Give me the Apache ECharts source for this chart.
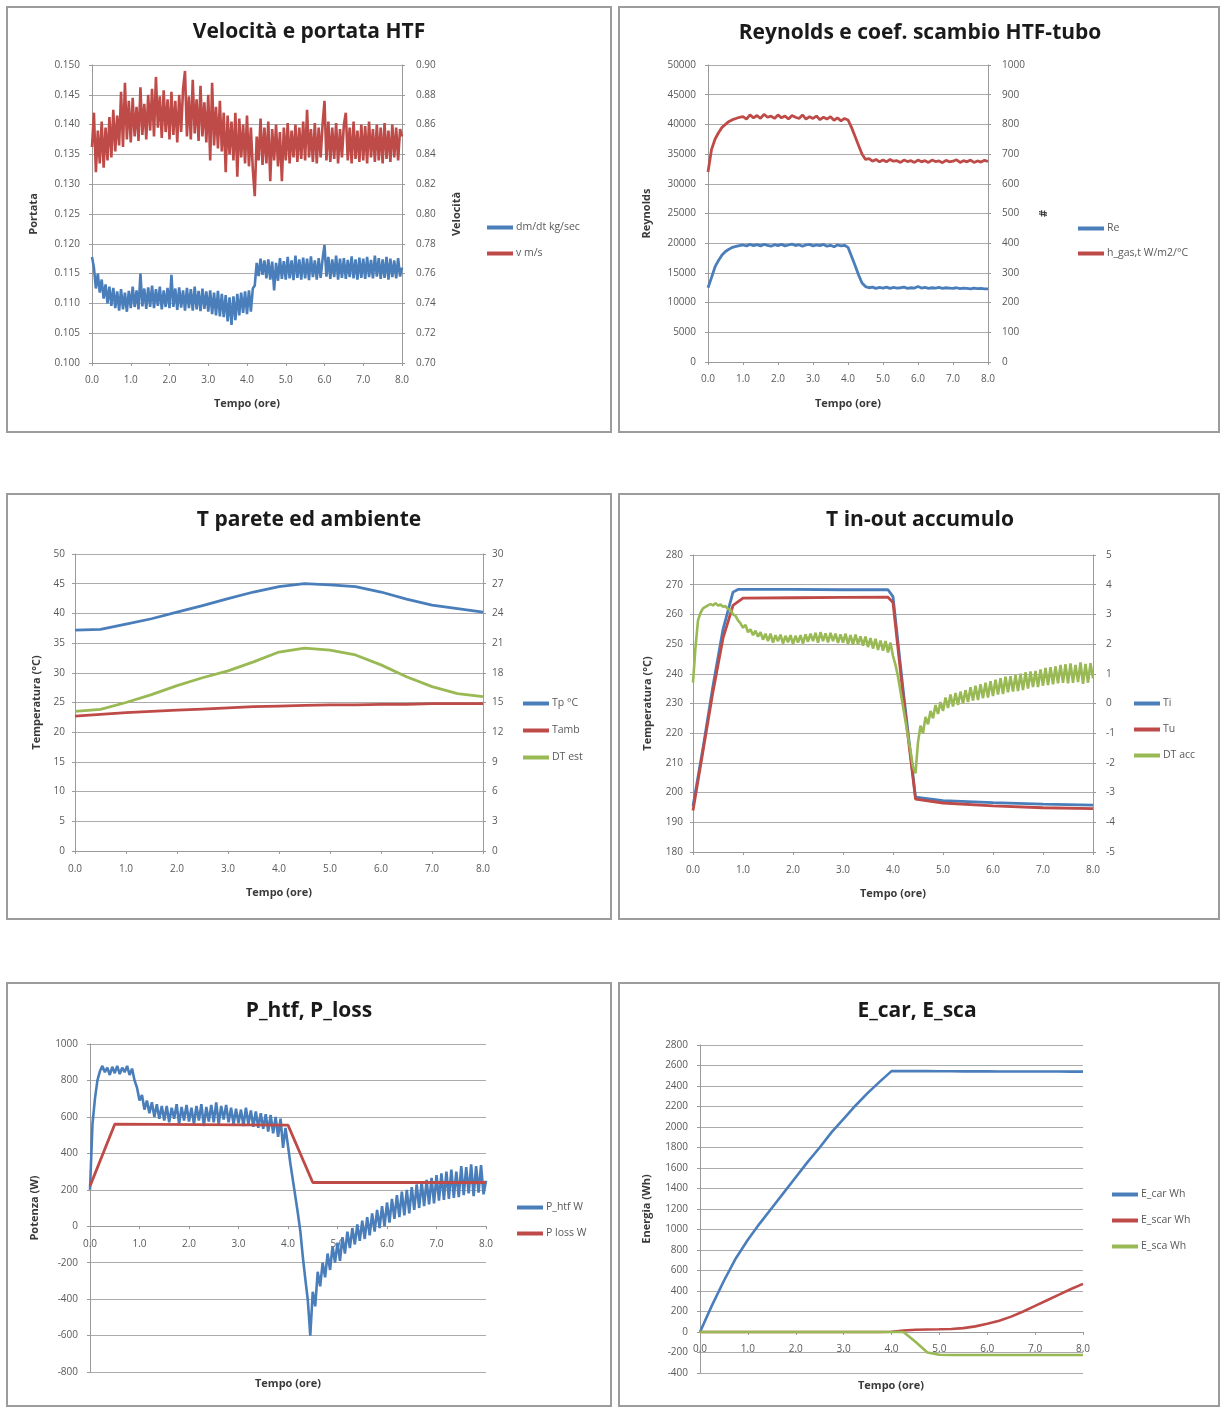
<!DOCTYPE html>
<html>
<head>
<meta charset="utf-8">
<script src="https://cdn.jsdelivr.net/npm/echarts@6/dist/echarts.min.js"></script>
<style>
  html, body { margin: 0; padding: 0; background: #ffffff; }
  #main { width: 1220px; height: 1407px; }
</style>
</head>
<body>
<div id="main"></div>
<script>
// ---- time grids (hours) ----
const tFine = [];     // every 3 minutes
for (let i = 0; i <= 160; i++) tFine.push(+(i * 0.05).toFixed(2));
const tTenth = [];    // every 6 minutes
for (let i = 0; i <= 80; i++) tTenth.push(+(i * 0.1).toFixed(1));
const tHalf = [];     // every 30 minutes
for (let i = 0; i <= 16; i++) tHalf.push(i * 0.5);
const tQuarter = [];  // every 15 minutes
for (let i = 0; i <= 32; i++) tQuarter.push(i * 0.25);

const xTickLabels = ['0.0', '1.0', '2.0', '3.0', '4.0', '5.0', '6.0', '7.0', '8.0'];

// ---- Velocità e portata HTF ----
const portataKgSec = [
  0.1178, 0.1160, 0.1125, 0.1150, 0.1118, 0.1140, 0.1108, 0.1132, 0.1100, 0.1128,
  0.1096, 0.1126, 0.1092, 0.1120, 0.1088, 0.1124, 0.1090, 0.1118, 0.1086, 0.1121,
  0.1092, 0.1128, 0.1094, 0.1122, 0.1090, 0.1150, 0.1095, 0.1125, 0.1091, 0.1127,
  0.1094, 0.1130, 0.1092, 0.1124, 0.1096, 0.1128, 0.1090, 0.1122, 0.1094, 0.1126,
  0.1092, 0.1148, 0.1094, 0.1125, 0.1089, 0.1127, 0.1093, 0.1122, 0.1088, 0.1126,
  0.1092, 0.1124, 0.1088, 0.1128, 0.1090, 0.1121, 0.1087, 0.1125, 0.1091, 0.1120,
  0.1086, 0.1122, 0.1082, 0.1118, 0.1080, 0.1121, 0.1078, 0.1116, 0.1077, 0.1114,
  0.1070, 0.1110, 0.1064, 0.1112, 0.1072, 0.1116, 0.1080, 0.1118, 0.1084, 0.1120,
  0.1082, 0.1122, 0.1086, 0.1125, 0.1130, 0.1168, 0.1146, 0.1175, 0.1148, 0.1172,
  0.1142, 0.1174, 0.1140, 0.1170, 0.1122, 0.1168, 0.1138, 0.1176, 0.1141, 0.1171,
  0.1140, 0.1178, 0.1142, 0.1172, 0.1139, 0.1180, 0.1143, 0.1174, 0.1140, 0.1177,
  0.1142, 0.1175, 0.1139, 0.1179, 0.1144, 0.1172, 0.1140, 0.1176, 0.1143, 0.1174,
  0.1198, 0.1145, 0.1178, 0.1141, 0.1174, 0.1144, 0.1180, 0.1140, 0.1175, 0.1143,
  0.1176, 0.1141, 0.1173, 0.1144, 0.1179, 0.1142, 0.1174, 0.1140, 0.1177, 0.1143,
  0.1175, 0.1141, 0.1178, 0.1144, 0.1173, 0.1142, 0.1180, 0.1145, 0.1176, 0.1141,
  0.1174, 0.1143, 0.1178, 0.1140, 0.1175, 0.1144, 0.1172, 0.1142, 0.1176, 0.1145,
  0.1160
];
const velocitaMs = [
  0.845, 0.868, 0.828, 0.856, 0.834, 0.862, 0.831, 0.858, 0.836, 0.865,
  0.838, 0.870, 0.842, 0.866, 0.846, 0.882, 0.845, 0.888, 0.850, 0.876,
  0.848, 0.878, 0.852, 0.872, 0.849, 0.885, 0.853, 0.874, 0.850, 0.880,
  0.856, 0.884, 0.852, 0.892, 0.858, 0.879, 0.851, 0.883, 0.855, 0.877,
  0.850, 0.882, 0.853, 0.876, 0.848, 0.880, 0.855, 0.884, 0.896, 0.852,
  0.879, 0.850, 0.890, 0.854, 0.877, 0.849, 0.886, 0.852, 0.875, 0.848,
  0.880, 0.836, 0.888, 0.846, 0.872, 0.844, 0.876, 0.842, 0.868, 0.828,
  0.866, 0.840, 0.862, 0.836, 0.868, 0.825, 0.864, 0.838, 0.860, 0.834,
  0.866, 0.832, 0.858, 0.830, 0.812, 0.852, 0.836, 0.864, 0.833, 0.858,
  0.834, 0.862, 0.822, 0.857, 0.836, 0.860, 0.832, 0.855, 0.822, 0.858,
  0.836, 0.861, 0.834, 0.856, 0.838, 0.860, 0.835, 0.858, 0.837, 0.862,
  0.836, 0.870, 0.838, 0.857, 0.835, 0.861, 0.834, 0.858, 0.838, 0.860,
  0.876, 0.836, 0.862, 0.835, 0.858, 0.837, 0.861, 0.834, 0.857, 0.838,
  0.860, 0.868, 0.836, 0.858, 0.834, 0.862, 0.837, 0.856, 0.835, 0.860,
  0.836, 0.859, 0.834, 0.862, 0.838, 0.857, 0.835, 0.860, 0.836, 0.858,
  0.834, 0.861, 0.837, 0.856, 0.835, 0.860, 0.838, 0.858, 0.836, 0.857,
  0.852
];

// ---- Reynolds e coef. scambio HTF-tubo ----
const reynolds = [
  12500, 14200, 16000, 17100, 18000, 18600, 19000, 19300, 19450, 19600,
  19700, 19550, 19800, 19600, 19750, 19550, 19800, 19650, 19500, 19750,
  19600, 19800, 19550, 19700, 19850, 19600, 19750, 19500, 19700, 19800,
  19550, 19700, 19600, 19800, 19500, 19650, 19400, 19700, 19550, 19650,
  19300, 17800, 16300, 14700, 13300, 12700, 12500, 12600, 12400, 12550,
  12450, 12600, 12400, 12550, 12450, 12500, 12600, 12400, 12500, 12450,
  12700, 12450, 12550, 12400, 12500, 12450, 12550, 12400, 12500, 12450,
  12400, 12500, 12350, 12450, 12400, 12300, 12450, 12350, 12400, 12300,
  12300
];
const hScambio = [
  640, 715, 750, 772, 790, 800, 810, 816, 820, 824,
  826, 818, 832, 822, 830, 820, 834, 824, 828, 820,
  832, 822, 828, 818, 830, 824, 820, 832, 818, 826,
  820, 828, 816, 824, 818, 826, 814, 822, 812, 820,
  815, 790, 760, 730, 700, 682, 685, 676, 682, 674,
  680, 674, 682, 676, 678, 672, 680, 675, 678, 672,
  680, 674, 678, 672, 680, 675, 677, 671, 679, 674,
  676, 681, 672, 678, 674, 680, 672, 677, 673, 679,
  675
];

// ---- T parete ed ambiente ----
const tParete = [37.2, 37.3, 38.2, 39.1, 40.2, 41.3, 42.5, 43.6, 44.5, 45.0, 44.8, 44.5, 43.6, 42.4, 41.4, 40.8, 40.2];
const tAmb    = [22.7, 23.0, 23.3, 23.5, 23.7, 23.9, 24.1, 24.3, 24.4, 24.5, 24.6, 24.6, 24.7, 24.7, 24.8, 24.8, 24.8];
const dtEst   = [14.1, 14.3, 15.0, 15.8, 16.7, 17.5, 18.2, 19.1, 20.1, 20.5, 20.3, 19.8, 18.8, 17.6, 16.6, 15.9, 15.6];

// ---- T in-out accumulo ----
const tiTime = [0, 0.2, 0.4, 0.6, 0.8, 0.9, 2.0, 3.0, 3.9, 4.0, 4.2, 4.45, 5.0, 6.0, 7.0, 8.0];
const tiVal  = [195.5, 215, 236, 255, 267.5, 268.4, 268.4, 268.3, 268.3, 266, 235, 198.5, 197.3, 196.6, 196.1, 195.8];
const tuTime = [0, 0.2, 0.4, 0.6, 0.8, 1.0, 2.0, 3.0, 3.9, 4.0, 4.2, 4.45, 5.0, 6.0, 7.0, 8.0];
const tuVal  = [194, 214, 234, 252, 263, 265.5, 265.6, 265.7, 265.8, 264, 233, 197.8, 196.5, 195.5, 194.9, 194.6];
const dtAcc = [
  0.7, 1.9, 2.8, 3.05, 3.2, 3.25, 3.3, 3.35, 3.3, 3.38,
  3.3, 3.33, 3.26, 3.28, 3.18, 3.15, 3.0, 2.95, 2.8, 2.7,
  2.55, 2.65, 2.4, 2.5, 2.3, 2.45, 2.25, 2.4, 2.15, 2.35,
  2.1, 2.35, 2.05, 2.3, 2.1, 2.32, 2.02, 2.28, 2.06, 2.3,
  2.0, 2.28, 2.05, 2.3, 2.02, 2.33, 2.08, 2.35, 2.1, 2.38,
  2.05, 2.4, 2.1, 2.36, 2.06, 2.38, 2.1, 2.35, 2.04, 2.33,
  2.05, 2.35, 2.0, 2.3, 1.98, 2.32, 2.0, 2.26, 1.95, 2.25,
  1.9, 2.2, 1.85, 2.18, 1.8, 2.12, 1.78, 2.1, 1.72, 2.05,
  1.6, 1.3, 0.9, 0.4, -0.1, -0.6, -1.1, -1.6, -2.13, -2.35,
  -1.3, -0.75, -1.0, -0.45, -0.7, -0.25, -0.5, -0.05, -0.35, 0.05,
  -0.25, 0.2, -0.15, 0.3, -0.1, 0.35, -0.05, 0.4, 0.0, 0.45,
  0.05, 0.55, 0.1, 0.6, 0.12, 0.65, 0.18, 0.7, 0.2, 0.75,
  0.25, 0.8, 0.3, 0.85, 0.32, 0.9, 0.38, 0.92, 0.4, 0.95,
  0.42, 1.0, 0.45, 1.05, 0.5, 1.08, 0.55, 1.1, 0.55, 1.15,
  0.6, 1.2, 0.62, 1.22, 0.65, 1.25, 0.68, 1.3, 0.7, 1.32,
  0.68, 1.35, 0.7, 1.3, 0.72, 1.38, 0.66, 1.33, 0.7, 1.36,
  0.85
];

// ---- P_htf, P_loss ----
const pHtf = [
  200, 560, 700, 800, 850, 880, 845, 870, 830, 875,
  840, 880, 835, 870, 845, 880, 830, 865, 800, 760,
  690, 720, 640, 690, 620, 680, 600, 670, 590, 660,
  580, 660, 570, 650, 590, 670, 560, 655, 580, 665,
  575, 650, 560, 660, 580, 670, 550, 655, 575, 665,
  570, 680, 560, 660, 585, 665, 570, 650, 560, 645,
  565, 640, 550, 650, 560, 635, 545, 630, 540, 620,
  535, 615, 520, 610, 510, 600, 490, 590, 430, 540,
  440, 340, 250, 160, 70, -30, -170, -290, -405, -600,
  -360, -440, -250, -330, -200, -280, -150, -240, -110, -200,
  -90, -190, -60, -150, -30, -120, -10, -100, 10, -80,
  30, -70, 50, -50, 70, -30, 90, -10, 110, 0,
  130, 20, 150, 40, 170, 50, 190, 60, 200, 70,
  215, 90, 230, 100, 245, 110, 255, 120, 265, 125,
  280, 140, 290, 145, 300, 150, 310, 155, 300, 160,
  330, 170, 325, 180, 340, 165, 330, 185, 335, 175,
  250
];
const pLossTime = [0, 0.5, 4.0, 4.5, 8.0];
const pLoss     = [220, 560, 555, 240, 240];

// ---- E_car, E_sca ----
const eCar  = [0, 260, 500, 720, 900, 1060, 1210, 1360, 1510, 1660, 1800, 1950, 2080, 2210, 2330, 2440, 2545,
               2545, 2545, 2545, 2544, 2544, 2543, 2543, 2543, 2542, 2542, 2542, 2541, 2541, 2541, 2540, 2540];
const eScar = [0, 0, 0, 0, 0, 0, 0, 0, 0, 0, 0, 0, 0, 0, 0, 0, 2,
               15, 22, 25, 27, 30, 38, 55, 80, 110, 150, 200, 255, 310, 365, 420, 470];
const eSca  = [0, 0, 0, 0, 0, 0, 0, 0, 0, 0, 0, 0, 0, 0, 0, 0, 0,
               0, -95, -200, -222, -224, -225, -225, -225, -225, -225, -225, -225, -225, -225, -225, -225];

// ---- styling ----
const FONT = '"Open Sans", Lato, "DejaVu Sans", sans-serif';
const BLUE = '#4a7ebb', RED = '#be4b48', GREEN = '#98b954';
const AXIS_GRAY = '#9a9a9a', GRID_GRAY = '#ababab';
const LABEL_COLOR = '#595959', NAME_COLOR = '#3a3a3a';
const pairs = (ts, vs) => ts.map((t, i) => [t, vs[i]]);

function xAxis(gridIndex, opts) {
  return {
    type: 'value', gridIndex, min: 0, max: 8, interval: 1,
    offset: opts.offset || 0,
    name: opts.name || '', nameLocation: 'middle', nameGap: opts.nameGap || 35,
    nameTextStyle: { fontFamily: FONT, fontSize: 11, fontWeight: 'bold', color: NAME_COLOR },
    axisLine: { show: true, onZero: false, lineStyle: { color: AXIS_GRAY } },
    axisTick: { show: true, length: 3, lineStyle: { color: AXIS_GRAY } },
    axisLabel: { fontFamily: FONT, fontSize: 10, color: LABEL_COLOR, margin: opts.margin || 12,
                 formatter: v => xTickLabels[Math.round(v)] },
    splitLine: { show: false }
  };
}
function yAxis(gridIndex, min, max, interval, digits, opts) {
  opts = opts || {};
  return {
    type: 'value', gridIndex, min, max, interval,
    position: opts.right ? 'right' : 'left',
    name: opts.name || '', nameLocation: 'middle', nameGap: opts.nameGap || 50, nameRotate: 90,
    nameTextStyle: { fontFamily: FONT, fontSize: 11, fontWeight: 'bold', color: NAME_COLOR },
    axisLine: { show: true, lineStyle: { color: AXIS_GRAY } },
    axisTick: { show: true, length: 3, lineStyle: { color: AXIS_GRAY } },
    axisLabel: { fontFamily: FONT, fontSize: 10, color: LABEL_COLOR, margin: opts.margin || 12,
                 formatter: v => v.toFixed(digits) },
    splitLine: { show: !opts.right, lineStyle: { color: GRID_GRAY, width: 1 } }
  };
}
function line(name, data, color, xi, yi, width) {
  return {
    type: 'line', name, data, xAxisIndex: xi, yAxisIndex: yi,
    showSymbol: false, symbol: 'none', smooth: false,
    lineStyle: { color, width: width || 2.6 }, itemStyle: { color },
    emphasis: { disabled: true }
  };
}
function legend(names, left, top, gap) {
  return {
    orient: 'vertical', left, top, padding: 0, itemGap: gap, itemWidth: 26, itemHeight: 4,
    icon: 'rect', selectedMode: false,
    data: names,
    textStyle: { fontFamily: FONT, fontSize: 10.5, color: LABEL_COLOR, padding: [0, 0, 0, -2] }
  };
}
function title(text, cx, top, size) {
  return {
    text, left: cx, top, textAlign: 'center', padding: 0,
    textStyle: { fontFamily: FONT, fontSize: size, fontWeight: 'bold', color: '#1a1a1a' }
  };
}
function frame(x, y, w, h) {
  return {
    type: 'rect', shape: { x, y, width: w, height: h }, silent: true,
    style: { fill: 'none', stroke: '#9c9c9c', lineWidth: 2 }
  };
}

const option = {
  animation: false,
  backgroundColor: '#ffffff',
  graphic: [
    frame(7, 7, 604, 425), frame(619, 7, 600, 425),
    frame(7, 494, 604, 425), frame(619, 494, 600, 425),
    frame(7, 983, 604, 423), frame(619, 983, 600, 423)
  ],
  title: [
    title('Velocità e portata HTF', 309, 22, 21),
    title('Reynolds e coef. scambio HTF-tubo', 920, 23, 21),
    title('T parete ed ambiente', 309, 510, 21),
    title('T in-out accumulo', 920, 510, 21),
    title('P_htf, P_loss', 309, 1001, 21),
    title('E_car, E_sca', 917, 1001, 21),
    { text: 'Tempo (ore)', left: 288, top: 1378, textAlign: 'center', padding: 0,
      textStyle: { fontFamily: FONT, fontSize: 11, fontWeight: 'bold', color: NAME_COLOR } },
    { text: 'Tempo (ore)', left: 891, top: 1380, textAlign: 'center', padding: 0,
      textStyle: { fontFamily: FONT, fontSize: 11, fontWeight: 'bold', color: NAME_COLOR } }
  ],
  legend: [
    legend(['dm/dt kg/sec', 'v m/s'], 487, 222, 15),
    legend(['Re', 'h_gas,t W/m2/°C'], 1078, 223, 14),
    legend(['Tp °C', 'Tamb', 'DT est'], 523, 698, 16),
    legend(['Ti', 'Tu', 'DT acc'], 1134, 698, 15),
    legend(['P_htf W', 'P loss W'], 517, 1202, 15),
    legend(['E_car Wh', 'E_scar Wh', 'E_sca Wh'], 1112, 1189, 15)
  ],
  grid: [
    { left: 92, top: 65, width: 310, height: 298 },
    { left: 708, top: 65, width: 280, height: 297 },
    { left: 75, top: 554, width: 408, height: 297 },
    { left: 693, top: 555, width: 400, height: 297 },
    { left: 90, top: 1044, width: 396, height: 328 },
    { left: 700, top: 1045, width: 383, height: 328 }
  ],
  xAxis: [
    xAxis(0, { name: 'Tempo (ore)', nameGap: 35, margin: 12 }),
    xAxis(1, { name: 'Tempo (ore)', nameGap: 36, margin: 12 }),
    xAxis(2, { name: 'Tempo (ore)', nameGap: 36, margin: 13 }),
    xAxis(3, { name: 'Tempo (ore)', nameGap: 36, margin: 13 }),
    // axis drawn through the zero level of the power scale
    xAxis(4, { offset: -145.8, margin: 13 }),
    // axis drawn through the zero level of the energy scale
    xAxis(5, { offset: -41, margin: 12 })
  ],
  yAxis: [
    yAxis(0, 0.100, 0.150, 0.005, 3, { name: 'Portata', nameGap: 53 }),
    yAxis(0, 0.70, 0.90, 0.02, 2, { right: true, name: 'Velocità', nameGap: 49, margin: 14 }),
    yAxis(1, 0, 50000, 5000, 0, { name: 'Reynolds', nameGap: 56 }),
    yAxis(1, 0, 1000, 100, 0, { right: true, name: '#', nameGap: 50, margin: 14 }),
    yAxis(2, 0, 50, 5, 0, { name: 'Temperatura (°C)', nameGap: 33, margin: 10 }),
    yAxis(2, 0, 30, 3, 0, { right: true, margin: 9 }),
    yAxis(3, 180, 280, 10, 0, { name: 'Temperatura (°C)', nameGap: 40, margin: 10 }),
    yAxis(3, -5, 5, 1, 0, { right: true, margin: 13 }),
    yAxis(4, -800, 1000, 200, 0, { name: 'Potenza (W)', nameGap: 50 }),
    yAxis(5, -400, 2800, 200, 0, { name: 'Energia (Wh)', nameGap: 48 })
  ],
  series: [
    line('dm/dt kg/sec', pairs(tFine, portataKgSec), BLUE, 0, 0, 2.6),
    line('v m/s', pairs(tFine, velocitaMs), RED, 0, 1, 2.6),
    line('Re', pairs(tTenth, reynolds), BLUE, 1, 2, 2.8),
    line('h_gas,t W/m2/°C', pairs(tTenth, hScambio), RED, 1, 3, 2.8),
    line('Tp °C', pairs(tHalf, tParete), BLUE, 2, 4, 2.8),
    line('Tamb', pairs(tHalf, tAmb), RED, 2, 4, 2.8),
    line('DT est', pairs(tHalf, dtEst), GREEN, 2, 5, 2.8),
    line('Ti', pairs(tiTime, tiVal), BLUE, 3, 6, 2.8),
    line('Tu', pairs(tuTime, tuVal), RED, 3, 6, 2.8),
    line('DT acc', pairs(tFine, dtAcc), GREEN, 3, 7, 2.6),
    line('P_htf W', pairs(tFine, pHtf), BLUE, 4, 8, 2.6),
    line('P loss W', pairs(pLossTime, pLoss), RED, 4, 8, 2.8),
    line('E_car Wh', pairs(tQuarter, eCar), BLUE, 5, 9, 2.6),
    line('E_scar Wh', pairs(tQuarter, eScar), RED, 5, 9, 2.6),
    line('E_sca Wh', pairs(tQuarter, eSca), GREEN, 5, 9, 2.6)
  ]
};

const chart = echarts.init(document.getElementById('main'), null, { renderer: 'canvas' });
chart.setOption(option);
</script>
</body>
</html>
